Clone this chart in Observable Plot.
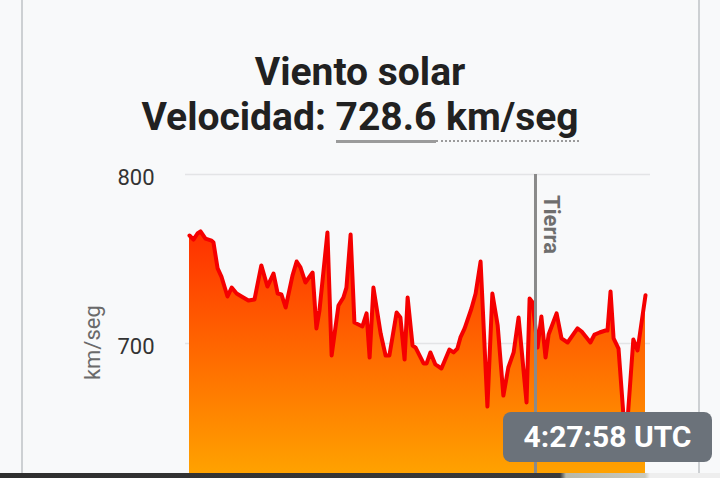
<!DOCTYPE html>
<html><head><meta charset="utf-8">
<script src="https://cdn.jsdelivr.net/npm/d3@7"></script>
<script src="https://cdn.jsdelivr.net/npm/@observablehq/plot@0.6"></script>
<style>
html,body{margin:0;padding:0;background:#f8f9fa;}
#wrap{position:relative;width:720px;height:478px;overflow:hidden;background:#f8f9fa;font-family:Roboto,"Noto Sans",sans-serif;}
.card{position:absolute;left:21px;top:-2px;width:679px;height:490px;box-sizing:border-box;border-left:2px solid #cdd0d3;border-right:2px solid #cdd0d3;}
.t{position:absolute;left:0;width:720px;text-align:center;font-weight:700;font-size:39px;line-height:39px;color:#212121;white-space:nowrap;}
.solid{border-bottom:3px solid #9b9b9b;}
.dot{border-bottom:2px dotted #9b9b9b;}
#chart{position:absolute;left:0;top:150px;}
.tip{position:absolute;left:503px;top:412px;width:209px;height:50px;border-radius:8px;background:#6b727a;color:#fff;font-weight:700;font-size:30px;line-height:50px;text-align:center;}
.strip{position:absolute;left:0;top:473px;width:720px;height:5px;background:linear-gradient(to right,#2e2e2e 0,#3a3a3a 560px,#b8b8a8 566px,#c9c9bd 645px,#eeeeee 650px);}
</style></head>
<body>
<div id="wrap">
  <div class="card"></div>
  <div class="t" style="top:53px">Viento solar</div>
  <div class="t" style="top:98px">Velocidad: <span class="solid">728.6</span><span class="dot"> km/seg</span></div>
  <div id="chart"></div>
  <div class="tip">4:27:58 UTC</div>
  <div class="strip"></div>
</div>
<script>
// time in minutes from start of window
const minutes = [0,1.05,2.1,2.9,4.2,5.8,6.3,7.4,8.4,10.0,
 11.1,12.4,13.7,15.5,17.1,18.9,20.5,22.1,23.2,24.2,
 25.3,27.1,28.2,29.2,30.5,32.4,33.4,34.2,36.3,37.4,
 39.2,40.5,41.3,42.4,43.4,45.5,46.6,47.4,48.4,50.3,
 51.6,52.6,54.5,55.5,56.6,57.4,58.7,59.5,61.6,62.4,
 63.4,64.7,66.3,68.4,69.5,70.5,71.3,72.4,74.2,75.3,
 76.6,78.4,79.7,81.1,82.6,83.9,85.3,86.6,88.7,89.5,
 90.3,91.6,92.6,93.7,94.5,96.6,97.9,99.5,102.1,103.2,
 105.5,106.6,107.9,109.5,110.0,110.8,111.6,112.9,114.2,115.3,
 116.8,117.9,120];
// solar wind speed, km/seg
const speed = [763.9,761.5,765.1,766.3,762.1,760.9,759.8,744.4,739.6,727.8,
 733.1,729.6,727.8,725.4,726.0,746.2,733.7,741.4,729.6,729.0,
 721.3,740.2,748.5,745.0,736.1,742.0,708.9,719.5,765.7,692.9,
 722.5,727.2,733.1,764.5,712.4,710.1,717.8,691.7,733.1,705.9,
 692.9,692.9,718.3,715.4,690.5,727.2,698.8,697.6,688.2,688.2,
 694.7,687.6,685.2,696.4,694.7,697.0,703.6,708.9,720.7,729.6,
 748.5,662.7,729.6,710.7,669.2,685.8,694.7,715.4,665.1,726.6,
 724.3,697.6,716.0,691.7,705.3,717.8,703.0,700.6,708.9,707.1,
 700.6,705.3,706.5,707.7,707.7,730.8,703.0,697.0,657.4,655.6,
 702.4,695.9,728.6];
const yTicks = [700, 800];
const earthMinute = [91.05];
const earthLabel = ["Tierra"];
const yLabel = ["km/seg"];
const yBase = 600;

const data = minutes.map((t, i) => ({t, v: speed[i]}));

const chart = Plot.plot({
  width: 720, height: 323,
  marginTop: 24, marginBottom: 0, marginLeft: 185, marginRight: 70,
  style: {background: "transparent", fontFamily: "Roboto, sans-serif", overflow: "hidden"},
  x: {domain: [0, 120], range: [189, 645], axis: null},
  y: {domain: [yBase, 800], range: [362, 24], axis: null},
  marks: [
    Plot.ruleY(yTicks, {stroke: "#e3e4e6", strokeWidth: 1.5}),
    Plot.areaY(data, {x: "t", y1: () => yBase, y2: "v", fill: "url(#swgrad)", curve: "linear"}),
    Plot.line(data, {x: "t", y: "v", stroke: "#f50000", strokeWidth: 4, strokeLinejoin: "round", strokeLinecap: "round"}),
    Plot.ruleX(earthMinute, {y1: 800, y2: yBase, stroke: "#8a8a8a", strokeWidth: 3}),
    Plot.text(earthLabel, {x: earthMinute, y: [770.4], rotate: 90, dx: 16, fontSize: 22, fontWeight: 700, fill: "#6e6e6e"}),
    Plot.text(yTicks, {y: d => d, frameAnchor: "left", textAnchor: "end", dx: -31, dy: 3, fontSize: 22, fill: "#333"}),
    Plot.text(yLabel, {y: [700.5], frameAnchor: "left", textAnchor: "middle", dx: -93, rotate: -90, fontSize: 22, fill: "#6a6a6a"})
  ]
});
const svgNS = "http://www.w3.org/2000/svg";
const defs = document.createElementNS(svgNS, "defs");
defs.innerHTML = '<linearGradient id="swgrad" gradientUnits="userSpaceOnUse" x1="0" y1="24" x2="0" y2="323">' +
  '<stop offset="0" stop-color="rgb(255,20,0)"/><stop offset="1" stop-color="rgb(255,162,0)"/></linearGradient>';
chart.insertBefore(defs, chart.firstChild);
document.getElementById("chart").appendChild(chart);
</script>
</body></html>
